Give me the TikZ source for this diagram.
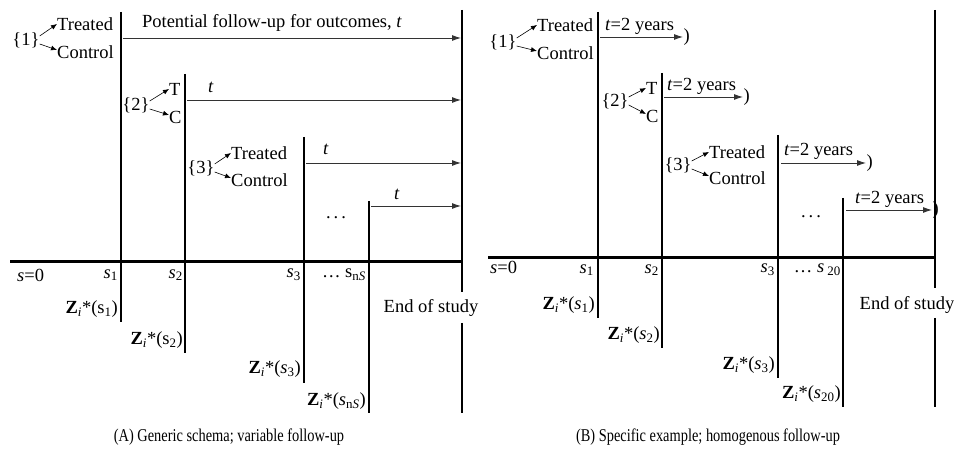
\documentclass[tikz,border=0pt]{standalone}
\usepackage{fontspec}
\setmainfont{Liberation Serif}
\usetikzlibrary{arrows.meta}
\begin{document}
\begin{tikzpicture}[x=1pt,y=-1pt,
  every node/.style={font=\fontsize{18.5}{20}\selectfont, inner sep=0pt},
  axisline/.style={line width=3pt},
  vline/.style={line width=2.4pt},
  fu/.style={line width=0.9pt, draw=black!80, -{Latex[length=9pt,width=6pt]}},
  br/.style={line width=0.6pt, -{Latex[length=6pt,width=5pt]}},
  capt/.style={font=\fontsize{18}{20}\selectfont},
  paren/.style={anchor=west}
]
\useasboundingbox (0,0) rectangle (954,454);

% ================= Panel A =================
\coordinate (a0) at (10,262);
\coordinate (aE) at (462,262);
\draw[axisline] (a0) -- (aE);
\coordinate (a1t) at (121,12);  \coordinate (a1b) at (121,322);
\coordinate (a2t) at (185,74);  \coordinate (a2b) at (185,353);
\coordinate (a3t) at (304,137); \coordinate (a3b) at (304,383);
\coordinate (a4t) at (369,201); \coordinate (a4b) at (369,413);
\coordinate (aet) at (462,10);  \coordinate (aem) at (462,292);
\coordinate (aen) at (462,323); \coordinate (aeb) at (462,413);
\draw[vline] (a1t) -- (a1b);
\draw[vline] (a2t) -- (a2b);
\draw[vline] (a3t) -- (a3b);
\draw[vline] (a4t) -- (a4b);
\draw[vline] (aet) -- (aem);
\draw[vline] (aen) -- (aeb);

\coordinate (af1s) at (123,38);  \coordinate (af1e) at (461,38);
\coordinate (af2s) at (187,100); \coordinate (af2e) at (461,100);
\coordinate (af3s) at (306,163); \coordinate (af3e) at (461,163);
\coordinate (af4s) at (371,206); \coordinate (af4e) at (461,206);
\draw[fu] (af1s) -- (af1e);
\draw[fu] (af2s) -- (af2e);
\draw[fu] (af3s) -- (af3e);
\draw[fu] (af4s) -- (af4e);
\node (aft1) at (272,23) {Potential follow-up for outcomes, \textit{t}};
\node (aft2) at (211,87) {\textit{t}};
\node (aft3) at (326,149) {\textit{t}};
\node (aft4) at (397,194) {\textit{t}};

\node (ag1) at (26,40) {\{1\}};
\node[anchor=west] (atr1) at (57,24) {Treated};
\node[anchor=west] (act1) at (57,52) {Control};
\draw[br] ([yshift=4pt]ag1.east) -- (atr1.west);
\draw[br] ([yshift=-4pt]ag1.east) -- ([yshift=2pt]act1.west);

\node (ag2) at (136,105) {\{2\}};
\node[anchor=west] (atr2) at (169,89) {T};
\node[anchor=west] (act2) at (169,117) {C};
\draw[br] ([yshift=4pt]ag2.east) -- (atr2.west);
\draw[br] ([yshift=-4pt]ag2.east) -- ([yshift=2pt]act2.west);

\node (ag3) at (201,168) {\{3\}};
\node[anchor=west] (atr3) at (231,153) {Treated};
\node[anchor=west] (act3) at (231,180) {Control};
\draw[br] ([yshift=4pt]ag3.east) -- (atr3.west);
\draw[br] ([yshift=-4pt]ag3.east) -- ([yshift=2pt]act3.west);

\node (adots) at (336,218) {.\hspace{3pt}.\hspace{3pt}.};

\node[anchor=west] (as0) at (17,275) {\textit{s}=0};
\node[anchor=east] (as1) at (118,275) {\textit{s}\textsubscript{1}};
\node[anchor=east] (as2) at (183,275) {\textit{s}\textsubscript{2}};
\node[anchor=east] (as3) at (301,275) {\textit{s}\textsubscript{3}};
\node[anchor=east] (asn) at (366,275) {\ldots\ s\textsubscript{n\textit{S}}};
\node[anchor=east] (az1) at (118,309) {\textbf{Z}\textsubscript{\textit{i}}*(s\textsubscript{1})};
\node[anchor=east] (az2) at (183,340) {\textbf{Z}\textsubscript{\textit{i}}*(s\textsubscript{2})};
\node[anchor=east] (az3) at (301,369) {\textbf{Z}\textsubscript{\textit{i}}*(\textit{s}\textsubscript{3})};
\node[anchor=east] (azn) at (366,401) {\textbf{Z}\textsubscript{\textit{i}}*(\textit{s}\textsubscript{n\textit{S}})};
\node (aend) at (431,308) {End of study};

\node[capt] (capA) at (229,437) {\scalebox{0.8}[1]{(A) Generic schema; variable follow-up}};

% ================= Panel B =================
\coordinate (b0) at (488,258);
\coordinate (bE) at (935,258);
\draw[axisline] (b0) -- (bE);
\coordinate (b1t) at (598,12);  \coordinate (b1b) at (598,318);
\coordinate (b2t) at (662,73);  \coordinate (b2b) at (662,348);
\coordinate (b3t) at (778,135); \coordinate (b3b) at (778,378);
\coordinate (b4t) at (843,198); \coordinate (b4b) at (843,407);
\coordinate (bet) at (935,10);  \coordinate (bem) at (935,288);
\coordinate (ben) at (935,318); \coordinate (beb) at (935,407);
\draw[vline] (b1t) -- (b1b);
\draw[vline] (b2t) -- (b2b);
\draw[vline] (b3t) -- (b3b);
\draw[vline] (b4t) -- (b4b);
\draw[vline] (bet) -- (bem);
\draw[vline] (ben) -- (beb);

\coordinate (bf1s) at (600,37);  \coordinate (bf1e) at (683,37);
\coordinate (bf2s) at (664,97);  \coordinate (bf2e) at (743,97);
\coordinate (bf3s) at (781,163); \coordinate (bf3e) at (866,163);
\coordinate (bf4s) at (846,210); \coordinate (bf4e) at (932,210);
\draw[fu] (bf1s) -- (bf1e);
\draw[fu] (bf2s) -- (bf2e);
\draw[fu] (bf3s) -- (bf3e);
\draw[fu] (bf4s) -- (bf4e);
\node[paren] (bp1) at ([xshift=0.5pt]bf1e) {)};
\node[paren] (bp2) at ([xshift=0.5pt]bf2e) {)};
\node[paren] (bp3) at ([xshift=0.5pt]bf3e) {)};
\node[paren] (bp4) at ([xshift=0.5pt]bf4e) {)};
\node[anchor=west] (bft1) at (605,26) {\textit{t}=2 years};
\node[anchor=west] (bft2) at (667,86) {\textit{t}=2 years};
\node[anchor=west] (bft3) at (784,151) {\textit{t}=2 years};
\node[anchor=west] (bft4) at (855,199) {\textit{t}=2 years};

\node (bg1) at (503,42) {\{1\}};
\node[anchor=west] (btr1) at (537,25) {Treated};
\node[anchor=west] (bct1) at (537,53) {Control};
\draw[br] ([yshift=4pt]bg1.east) -- (btr1.west);
\draw[br] ([yshift=-4pt]bg1.east) -- ([yshift=2pt]bct1.west);

\node (bg2) at (615,101) {\{2\}};
\node[anchor=west] (btr2) at (646,88) {T};
\node[anchor=west] (bct2) at (646,116) {C};
\draw[br] ([yshift=4pt]bg2.east) -- (btr2.west);
\draw[br] ([yshift=-4pt]bg2.east) -- ([yshift=2pt]bct2.west);

\node (bg3) at (678,165) {\{3\}};
\node[anchor=west] (btr3) at (709,152) {Treated};
\node[anchor=west] (bct3) at (709,178) {Control};
\draw[br] ([yshift=4pt]bg3.east) -- (btr3.west);
\draw[br] ([yshift=-4pt]bg3.east) -- ([yshift=2pt]bct3.west);

\node (bdots) at (811,217) {.\hspace{3pt}.\hspace{3pt}.};

\node[anchor=west] (bs0) at (490,267) {\textit{s}=0};
\node[anchor=east] (bs1) at (594,270) {\textit{s}\textsubscript{1}};
\node[anchor=east] (bs2) at (659,270) {\textit{s}\textsubscript{2}};
\node[anchor=east] (bs3) at (775,270) {\textit{s}\textsubscript{3}};
\node[anchor=east] (bsn) at (841,270) {\ldots\ \textit{s}\,\textsubscript{20}};
\node[anchor=east] (bz1) at (595,305) {\textbf{Z}\textsubscript{\textit{i}}*(\textit{s}\textsubscript{1})};
\node[anchor=east] (bz2) at (660,335) {\textbf{Z}\textsubscript{\textit{i}}*(\textit{s}\textsubscript{2})};
\node[anchor=east] (bz3) at (775,365) {\textbf{Z}\textsubscript{\textit{i}}*(\textit{s}\textsubscript{3})};
\node[anchor=east] (bzn) at (841,394) {\textbf{Z}\textsubscript{\textit{i}}*(\textit{s}\textsubscript{20})};
\node (bend) at (907,305) {End of study};

\node[capt] (capB) at (708,437) {\scalebox{0.8}[1]{(B) Specific example; homogenous follow-up}};
\end{tikzpicture}
\end{document}
